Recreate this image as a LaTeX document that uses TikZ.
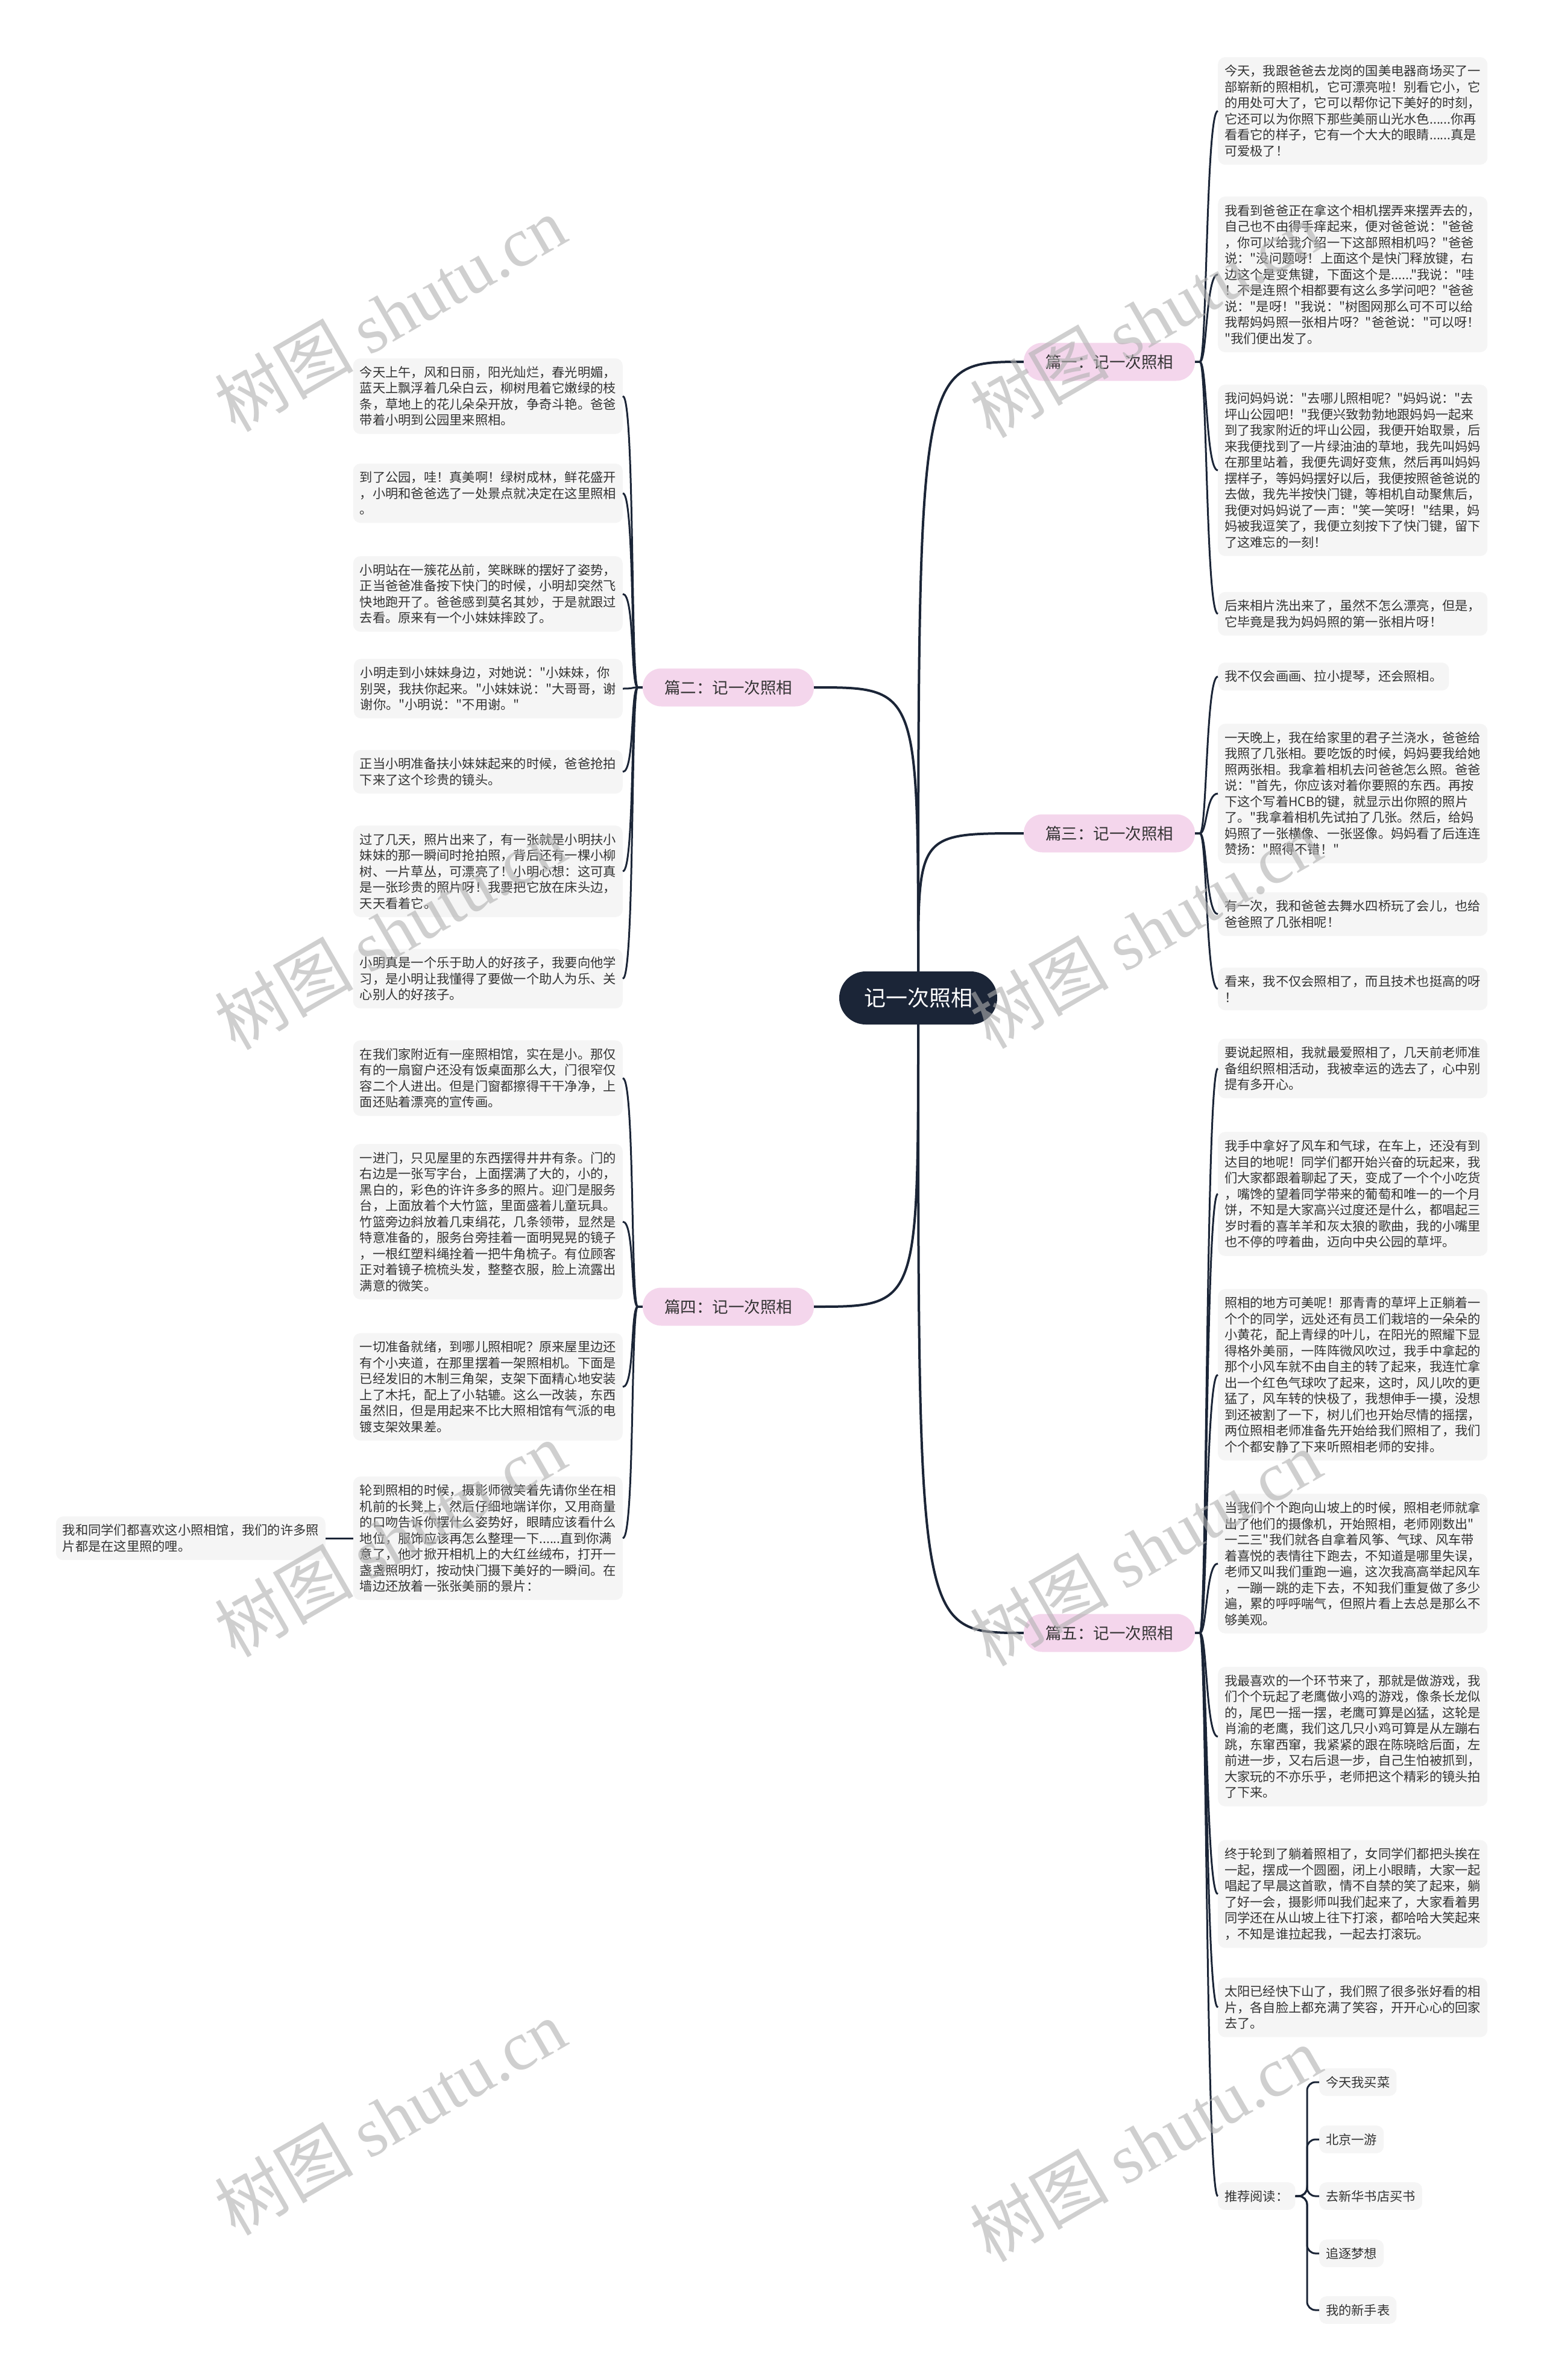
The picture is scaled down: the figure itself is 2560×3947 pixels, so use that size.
\documentclass[tikz,border=0pt]{standalone}
\usepackage{fontspec}
\setmainfont{Noto Sans CJK SC}[Ligatures=TeXOff]
\newfontfamily\wmserif{Liberation Serif}
\usetikzlibrary{calc}
\definecolor{navy}{HTML}{1B2537}
\definecolor{leafgray}{HTML}{F5F5F5}
\definecolor{pinkfill}{HTML}{F4D6EC}
\definecolor{txt}{HTML}{333333}
\definecolor{wmgray}{HTML}{B0B0B0}
\newcommand\leaffont{\fontsize{21.25}{26.5}\selectfont}
\tikzset{
  leaf/.style={fill=leafgray, rounded corners=12pt, inner xsep=11pt, inner ysep=13pt, align=left, font=\leaffont, text=txt},
  leafR/.style={leaf, anchor=west},
  leafL/.style={leaf, anchor=east},
  branch/.style={fill=pinkfill, rounded corners=31pt, minimum height=63pt, inner xsep=36pt, font=\fontsize{26.5}{30}\selectfont, text=txt},
  rootbox/.style={fill=navy, rounded corners=44pt, minimum height=88pt, minimum width=262pt, font=\fontsize{36}{40}\selectfont, text=white},
  mainconn/.style={draw=navy, line width=4pt},
  conn/.style={draw=navy, line width=3pt},
  wm/.style={text=wmgray, opacity=0.6, rotate=30, font=\fontsize{115}{115}\selectfont}
}
\newcommand\rconn[2]{\draw[conn] (#1.east) -- ++(8,0) .. controls +(12,0) and +(-20,0) .. (#2.west);}
\newcommand\lconn[2]{\draw[conn] (#1.west) -- ++(-8,0) .. controls +(-12,0) and +(20,0) .. (#2.east);}
\begin{document}
\begin{tikzpicture}[x=1pt,y=-1pt]
\fill[white] (0,0) rectangle (2560,3947);
\useasboundingbox (0,0) rectangle (2560,3947);

% root and branches
\node[rootbox] (root) at (1523,1655) {记一次照相};
\node[branch] (b1) at (1840,600) {篇一：记一次照相};
\node[branch] (b3) at (1840,1382) {篇三：记一次照相};
\node[branch] (b5) at (1840,2708) {篇五：记一次照相};
\node[branch] (b2) at (1208,1140) {篇二：记一次照相};
\node[branch] (b4) at (1208,2167) {篇四：记一次照相};

\draw[mainconn] (root.north) .. controls (root.north |- b1.west) .. (b1.west);
\draw[mainconn] (root.north) .. controls (root.north |- b3.west) .. (b3.west);
\draw[mainconn] (root.north) .. controls (root.north |- b2.east) .. (b2.east);
\draw[mainconn] (root.south) .. controls (root.south |- b5.west) .. (b5.west);
\draw[mainconn] (root.south) .. controls (root.south |- b4.east) .. (b4.east);

% ---- 篇一
\node[leafR] (a1) at (2020,184) {今天，我跟爸爸去龙岗的国美电器商场买了一\\部崭新的照相机，它可漂亮啦！别看它小，它\\的用处可大了，它可以帮你记下美好的时刻，\\它还可以为你照下那些美丽山光水色......你再\\看看它的样子，它有一个大大的眼睛......真是\\可爱极了！};
\node[leafR] (a2) at (2020,455) {我看到爸爸正在拿这个相机摆弄来摆弄去的，\\自己也不由得手痒起来，便对爸爸说："爸爸\\，你可以给我介绍一下这部照相机吗？"爸爸\\说："没问题呀！上面这个是快门释放键，右\\边这个是变焦键，下面这个是......"我说："哇\\！不是连照个相都要有这么多学问吧？"爸爸\\说："是呀！"我说："树图网那么可不可以给\\我帮妈妈照一张相片呀？"爸爸说："可以呀！\\"我们便出发了。};
\node[leafR] (a3) at (2020,780) {我问妈妈说："去哪儿照相呢？"妈妈说："去\\坪山公园吧！"我便兴致勃勃地跟妈妈一起来\\到了我家附近的坪山公园，我便开始取景，后\\来我便找到了一片绿油油的草地，我先叫妈妈\\在那里站着，我便先调好变焦，然后再叫妈妈\\摆样子，等妈妈摆好以后，我便按照爸爸说的\\去做，我先半按快门键，等相机自动聚焦后，\\我便对妈妈说了一声："笑一笑呀！"结果，妈\\妈被我逗笑了，我便立刻按下了快门键，留下\\了这难忘的一刻！};
\node[leafR] (a4) at (2020,1018) {后来相片洗出来了，虽然不怎么漂亮，但是，\\它毕竟是我为妈妈照的第一张相片呀！};
\rconn{b1}{a1}\rconn{b1}{a2}\rconn{b1}{a3}\rconn{b1}{a4}

% ---- 篇三
\node[leafR] (c1) at (2020,1122) {我不仅会画画、拉小提琴，还会照相。};
\node[leafR] (c2) at (2020,1316) {一天晚上，我在给家里的君子兰浇水，爸爸给\\我照了几张相。要吃饭的时候，妈妈要我给她\\照两张相。我拿着相机去问爸爸怎么照。爸爸\\说："首先，你应该对着你要照的东西。再按\\下这个写着HCB的键，就显示出你照的照片\\了。"我拿着相机先试拍了几张。然后，给妈\\妈照了一张横像、一张竖像。妈妈看了后连连\\赞扬："照得不错！"};
\node[leafR] (c3) at (2020,1516) {有一次，我和爸爸去舞水四桥玩了会儿，也给\\爸爸照了几张相呢！};
\node[leafR] (c4) at (2020,1640) {看来，我不仅会照相了，而且技术也挺高的呀\\！};
\rconn{b3}{c1}\rconn{b3}{c2}\rconn{b3}{c3}\rconn{b3}{c4}

% ---- 篇五
\node[leafR] (e1) at (2020,1772) {要说起照相，我就最爱照相了，几天前老师准\\备组织照相活动，我被幸运的选去了，心中别\\提有多开心。};
\node[leafR] (e2) at (2020,1980) {我手中拿好了风车和气球，在车上，还没有到\\达目的地呢！同学们都开始兴奋的玩起来，我\\们大家都跟着聊起了天，变成了一个个小吃货\\，嘴馋的望着同学带来的葡萄和唯一的一个月\\饼，不知是大家高兴过度还是什么，都唱起三\\岁时看的喜羊羊和灰太狼的歌曲，我的小嘴里\\也不停的哼着曲，迈向中央公园的草坪。};
\node[leafR] (e3) at (2020,2280) {照相的地方可美呢！那青青的草坪上正躺着一\\个个的同学，远处还有员工们栽培的一朵朵的\\小黄花，配上青绿的叶儿，在阳光的照耀下显\\得格外美丽，一阵阵微风吹过，我手中拿起的\\那个小风车就不由自主的转了起来，我连忙拿\\出一个红色气球吹了起来，这时，风儿吹的更\\猛了，风车转的快极了，我想伸手一摸，没想\\到还被割了一下，树儿们也开始尽情的摇摆，\\两位照相老师准备先开始给我们照相了，我们\\个个都安静了下来听照相老师的安排。};
\node[leafR] (e4) at (2020,2593) {当我们个个跑向山坡上的时候，照相老师就拿\\出了他们的摄像机，开始照相，老师刚数出"\\一二三"我们就各自拿着风筝、气球、风车带\\着喜悦的表情往下跑去，不知道是哪里失误，\\老师又叫我们重跑一遍，这次我高高举起风车\\，一蹦一跳的走下去，不知我们重复做了多少\\遍，累的呼呼喘气，但照片看上去总是那么不\\够美观。};
\node[leafR] (e5) at (2020,2880) {我最喜欢的一个环节来了，那就是做游戏，我\\们个个玩起了老鹰做小鸡的游戏，像条长龙似\\的，尾巴一摇一摆，老鹰可算是凶猛，这轮是\\肖渝的老鹰，我们这几只小鸡可算是从左蹦右\\跳，东窜西窜，我紧紧的跟在陈晓晗后面，左\\前进一步，又右后退一步，自己生怕被抓到，\\大家玩的不亦乐乎，老师把这个精彩的镜头拍\\了下来。};
\node[leafR] (e6) at (2020,3141) {终于轮到了躺着照相了，女同学们都把头挨在\\一起，摆成一个圆圈，闭上小眼睛，大家一起\\唱起了早晨这首歌，情不自禁的笑了起来，躺\\了好一会，摄影师叫我们起来了，大家看着男\\同学还在从山坡上往下打滚，都哈哈大笑起来\\，不知是谁拉起我，一起去打滚玩。};
\node[leafR] (e7) at (2020,3329) {太阳已经快下山了，我们照了很多张好看的相\\片，各自脸上都充满了笑容，开开心心的回家\\去了。};
\node[leafR] (tj) at (2020,3642) {推荐阅读：};
\rconn{b5}{e1}\rconn{b5}{e2}\rconn{b5}{e3}\rconn{b5}{e4}
\rconn{b5}{e5}\rconn{b5}{e6}\rconn{b5}{e7}\rconn{b5}{tj}

\node[leafR] (r1) at (2188,3453) {今天我买菜};
\node[leafR] (r2) at (2188,3548) {北京一游};
\node[leafR] (r3) at (2188,3642) {去新华书店买书};
\node[leafR] (r4) at (2188,3737) {追逐梦想};
\node[leafR] (r5) at (2188,3831) {我的新手表};
\coordinate (tjbar) at (2168,3642);
\foreach \r in {r1,r2,r3,r4,r5}{
  \draw[conn, rounded corners=14pt] (tj.east) -- (tjbar) |- (\r.west);
}

% ---- 篇二
\node[leafL] (d1) at (1033,657) {今天上午，风和日丽，阳光灿烂，春光明媚，\\蓝天上飘浮着几朵白云，柳树甩着它嫩绿的枝\\条，草地上的花儿朵朵开放，争奇斗艳。爸爸\\带着小明到公园里来照相。};
\node[leafL] (d2) at (1033,818) {到了公园，哇！真美啊！绿树成林，鲜花盛开\\，小明和爸爸选了一处景点就决定在这里照相\\。};
\node[leafL] (d3) at (1033,985) {小明站在一簇花丛前，笑眯眯的摆好了姿势，\\正当爸爸准备按下快门的时候，小明却突然飞\\快地跑开了。爸爸感到莫名其妙，于是就跟过\\去看。原来有一个小妹妹摔跤了。};
\node[leafL] (d4) at (1033,1142) {小明走到小妹妹身边，对她说："小妹妹，你\\别哭，我扶你起来。"小妹妹说："大哥哥，谢\\谢你。"小明说："不用谢。"};
\node[leafL] (d5) at (1033,1280) {正当小明准备扶小妹妹起来的时候，爸爸抢拍\\下来了这个珍贵的镜头。};
\node[leafL] (d6) at (1033,1445) {过了几天，照片出来了，有一张就是小明扶小\\妹妹的那一瞬间时抢拍照，背后还有一棵小柳\\树、一片草丛，可漂亮了！小明心想：这可真\\是一张珍贵的照片呀！我要把它放在床头边，\\天天看着它。};
\node[leafL] (d7) at (1033,1623) {小明真是一个乐于助人的好孩子，我要向他学\\习，是小明让我懂得了要做一个助人为乐、关\\心别人的好孩子。};
\lconn{b2}{d1}\lconn{b2}{d2}\lconn{b2}{d3}\lconn{b2}{d4}
\lconn{b2}{d5}\lconn{b2}{d6}\lconn{b2}{d7}

% ---- 篇四
\node[leafL] (f1) at (1033,1788) {在我们家附近有一座照相馆，实在是小。那仅\\有的一扇窗户还没有饭桌面那么大，门很窄仅\\容二个人进出。但是门窗都擦得干干净净，上\\面还贴着漂亮的宣传画。};
\node[leafL] (f2) at (1033,2026) {一进门，只见屋里的东西摆得井井有条。门的\\右边是一张写字台，上面摆满了大的，小的，\\黑白的，彩色的许许多多的照片。迎门是服务\\台，上面放着个大竹篮，里面盛着儿童玩具。\\竹篮旁边斜放着几束绢花，几条领带，显然是\\特意准备的，服务台旁挂着一面明晃晃的镜子\\，一根红塑料绳拴着一把牛角梳子。有位顾客\\正对着镜子梳梳头发，整整衣服，脸上流露出\\满意的微笑。};
\node[leafL] (f3) at (1033,2300) {一切准备就绪，到哪儿照相呢？原来屋里边还\\有个小夹道，在那里摆着一架照相机。下面是\\已经发旧的木制三角架，支架下面精心地安装\\上了木托，配上了小轱辘。这么一改装，东西\\虽然旧，但是用起来不比大照相馆有气派的电\\镀支架效果差。};
\node[leafL] (f4) at (1033,2551) {轮到照相的时候，摄影师微笑着先请你坐在相\\机前的长凳上，然后仔细地端详你，又用商量\\的口吻告诉你摆什么姿势好，眼睛应该看什么\\地位，服饰应该再怎么整理一下......直到你满\\意了，他才掀开相机上的大红丝绒布，打开一\\盏盏照明灯，按动快门摄下美好的一瞬间。在\\墙边还放着一张张美丽的景片：};
\lconn{b4}{f1}\lconn{b4}{f2}\lconn{b4}{f3}\lconn{b4}{f4}
\node[leafL] (g1) at (540,2551) {我和同学们都喜欢这小照相馆，我们的许多照\\片都是在这里照的哩。};
\draw[conn] (f4.west) -- (g1.east);

% ---- watermarks
\foreach \wx/\wy [count=\i] in {647/520, 647/1545, 647/2552, 647/3511, 1900/530, 1900/1543, 1900/2567, 1900/3555}{
  \node[wm] (wm\i) at (\wx,\wy) {树图 {\wmserif shutu.cn}};
}
\end{tikzpicture}
\end{document}
